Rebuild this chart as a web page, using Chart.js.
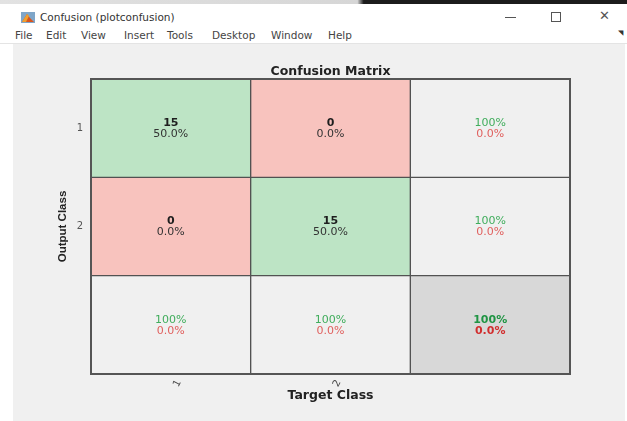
<!DOCTYPE html>
<html>
<head>
<meta charset="utf-8">
<title>Confusion (plotconfusion)</title>
<script src="https://cdn.jsdelivr.net/npm/chart.js@4.4.1/dist/chart.umd.min.js"></script>
<style>
    body {
        margin: 0;
        width: 627px;
        height: 421px;
        position: relative;
        overflow: hidden;
        background: #ffffff;
        font-family: "DejaVu Sans", sans-serif;
    }
    #franja {
        position: absolute; left: 0; top: 0; width: 627px; height: 4px;
        background: linear-gradient(to right, #e2e2e2 0, #d6d6d6 57%, #1c1c1c 58%, #1c1c1c 100%);
    }
    #icono { position: absolute; left: 21px; top: 12px; }
    #titulo-ventana {
        position: absolute; left: 40px; top: 11px;
        font-size: 10.5px; color: #333;
    }
    .menu {
        position: absolute; top: 29px;
        font-size: 10.5px; color: #444;
    }
    #btn-min { position: absolute; left: 505px; top: 17px; width: 11px; height: 1px; background: #555; }
    #btn-max { position: absolute; left: 551px; top: 12px; width: 8px; height: 8px; border: 1px solid #555; }
    #btn-cerrar { position: absolute; left: 599px; top: 8px; font-size: 13px; color: #555; }
    #flecha { position: absolute; left: 618px; top: 29px; font-size: 7px; color: #333; }
    #separador { position: absolute; left: 0; top: 43px; width: 627px; height: 1px; background: #e4e4e4; }
    #panel {
        position: absolute; left: 13px; top: 44px; width: 612px; height: 377px;
        background: #f0f0f0;
    }
    #contenedor-grafica {
        position: absolute; left: 36px; top: 43px; width: 589px; height: 378px;
    }
</style>
</head>
<body>
<div id="franja"></div>
<svg id="icono" width="14" height="11" viewBox="0 0 14 11">
    <rect x="0" y="0" width="14" height="11" fill="#7fa6c9"/>
    <polygon points="1,10 6,2 9,6 13,10" fill="#d9541e"/>
    <polygon points="6,2 8,4 5,10 1,10" fill="#f0a030"/>
</svg>
<div id="titulo-ventana">Confusion (plotconfusion)</div>
<div id="btn-min"></div>
<div id="btn-max"></div>
<div id="btn-cerrar">✕</div>

<div class="menu" style="left:15px">File</div>
<div class="menu" style="left:46px">Edit</div>
<div class="menu" style="left:81px">View</div>
<div class="menu" style="left:124px">Insert</div>
<div class="menu" style="left:167px">Tools</div>
<div class="menu" style="left:212px">Desktop</div>
<div class="menu" style="left:271px">Window</div>
<div class="menu" style="left:328px">Help</div>
<div id="flecha">◥</div>
<div id="separador"></div>
<div id="panel"></div>

<div id="contenedor-grafica">
    <canvas id="myChart"></canvas>
</div>

<script>
// datos de la matriz
const clasesObjetivo = ['1', '2'];
const clasesSalida = ['1', '2'];
// filas = clase de salida, columnas = clase objetivo
const conteos = [
    [15, 0],
    [0, 15]
];

const colorVerde = '#bde4c5';
const colorRojo = '#f8c3be';
const colorClaro = '#f0f0f0';
const colorEsquina = '#d8d8d8';

const n = clasesSalida.length;
const total = conteos.flat().reduce((a, b) => a + b, 0);

function formatoPct(v) {
    if (v === 100) return '100%';
    return v.toFixed(1) + '%';
}

// etiquetas del eje x (la ultima columna no lleva etiqueta)
const etiquetasX = [...clasesObjetivo, ''];

// un dataset por fila, cada celda es una barra flotante [fila, fila + 1]
const datasets = [];
for (let f = 0; f <= n; f++) {
    const colores = [];
    const valores = [];
    for (let c = 0; c <= n; c++) {
        valores.push([f, f + 1]);
        if (f === n && c === n) colores.push(colorEsquina);
        else if (f === n || c === n) colores.push(colorClaro);
        else colores.push(f === c ? colorVerde : colorRojo);
    }
    datasets.push({
        data: valores,
        backgroundColor: colores,
        borderColor: '#525252',
        borderWidth: 1,
        borderSkipped: false,
        categoryPercentage: 1,
        barPercentage: 1,
        grouped: false
    });
}

// escribe los numeros y porcentajes dentro de cada celda
const textoCeldas = {
    id: 'textoCeldas',
    afterDatasetsDraw(chart) {
        const { ctx, chartArea, scales: { x, y } } = chart;
        ctx.save();

        ctx.strokeStyle = '#555';
        ctx.lineWidth = 2;
        ctx.strokeRect(chartArea.left, chartArea.top, chartArea.right - chartArea.left, chartArea.bottom - chartArea.top);

        ctx.textAlign = 'center';
        ctx.textBaseline = 'middle';

        for (let f = 0; f <= n; f++) {
            for (let c = 0; c <= n; c++) {
                const cx = x.getPixelForValue(c);
                const cy = y.getPixelForValue(f + 0.5);
                let linea1, linea2, color1, color2, negrita1, negrita2;

                if (f < n && c < n) {
                    linea1 = String(conteos[f][c]);
                    linea2 = formatoPct(100 * conteos[f][c] / total);
                    color1 = '#1e1e1e';
                    color2 = '#333';
                    negrita1 = true;
                    negrita2 = false;
                } else {
                    let correctos, suma;
                    if (f < n) {
                        correctos = conteos[f][f];
                        suma = conteos[f].reduce((a, b) => a + b, 0);
                    } else if (c < n) {
                        correctos = conteos[c][c];
                        suma = conteos.reduce((a, fila) => a + fila[c], 0);
                    } else {
                        correctos = conteos.reduce((a, fila, i) => a + fila[i], 0);
                        suma = total;
                    }
                    const pct = 100 * correctos / suma;
                    linea1 = formatoPct(pct);
                    linea2 = formatoPct(100 - pct);
                    const esquina = f === n && c === n;
                    color1 = esquina ? '#1f9443' : '#40ad5c';
                    color2 = esquina ? '#d12e2e' : '#e0605e';
                    negrita1 = esquina;
                    negrita2 = esquina;
                }

                ctx.fillStyle = color1;
                ctx.font = (negrita1 ? 'bold ' : '') + '11px "DejaVu Sans"';
                ctx.fillText(linea1, cx, cy - 5);
                ctx.fillStyle = color2;
                ctx.font = (negrita2 ? 'bold ' : '') + '11px "DejaVu Sans"';
                ctx.fillText(linea2, cx, cy + 6);
            }
        }
        ctx.restore();
    }
};

const ctx = document.getElementById('myChart');

const grafica = new Chart(ctx, {
    type: 'bar',
    data: {
        labels: etiquetasX,
        datasets: datasets
    },
    options: {
        responsive: true,
        maintainAspectRatio: false,
        animation: false,
        layout: {
            padding: { left: 0, right: 55, top: 0, bottom: 0 }
        },
        plugins: {
            legend: { display: false },
            tooltip: { enabled: false },
            title: {
                display: true,
                text: 'Confusion Matrix',
                fullSize: false,
                color: '#222',
                font: { family: 'DejaVu Sans', weight: 'bold', size: 12.5 },
                padding: { top: 21, bottom: 0 }
            }
        },
        scales: {
            x: {
                type: 'category',
                grid: { display: false, drawTicks: false },
                border: { display: false },
                ticks: {
                    minRotation: 63,
                    maxRotation: 63,
                    padding: 4,
                    labelOffset: 8,
                    color: '#444',
                    font: { family: 'DejaVu Sans', size: 10 }
                },
                title: {
                    display: true,
                    text: 'Target Class',
                    color: '#222',
                    font: { family: 'DejaVu Sans', weight: 'bold', size: 12.5 },
                    padding: { top: 0, bottom: 17.5 }
                },
                afterFit(scale) {
                    scale.height = 47;
                }
            },
            y: {
                type: 'linear',
                min: 0,
                max: n + 1,
                reverse: true,
                grid: { display: false, drawTicks: false },
                border: { display: false },
                afterBuildTicks(scale) {
                    scale.ticks = clasesSalida.map((_, i) => ({ value: i + 0.5 }));
                },
                ticks: {
                    padding: 8,
                    color: '#555',
                    font: { family: 'DejaVu Sans', size: 10 },
                    callback: (valor) => clasesSalida[Math.floor(valor)]
                },
                title: {
                    display: true,
                    text: 'Output Class',
                    color: '#222',
                    font: { family: 'Liberation Sans', weight: 'bold', size: 11.5 },
                    padding: { top: 20, bottom: 0 }
                },
                afterFit(scale) {
                    scale.width = 55;
                }
            }
        }
    },
    plugins: [textoCeldas]
});
</script>
</body>
</html>
